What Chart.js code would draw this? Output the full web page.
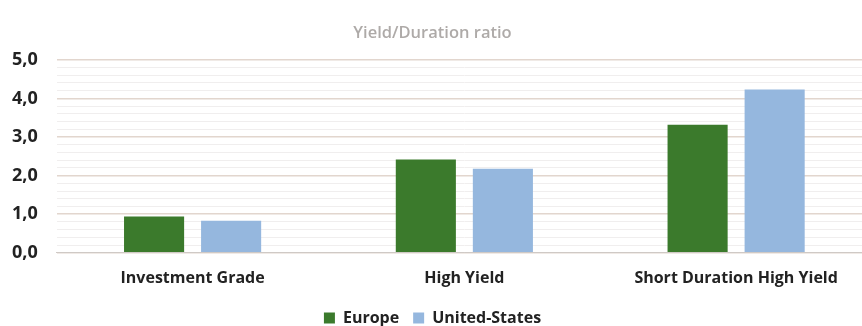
<!DOCTYPE html>
<html>
<head>
<meta charset="utf-8">
<script src="https://cdn.jsdelivr.net/npm/chart.js@4"></script>
<style>
  html, body { margin: 0; padding: 0; background: #fff; overflow: hidden; }
  #wrap { width: 862px; height: 326px; overflow: hidden; }
  canvas { display: block; }
</style>
</head>
<body>
<div id="wrap"><canvas id="chart" width="898" height="336"></canvas></div>
<script>
// Yield/Duration ratio by segment
const categories = ['Investment Grade', 'High Yield', 'Short Duration High Yield'];
const europe = [0.94, 2.42, 3.32];
const unitedStates = [0.83, 2.18, 4.23];

const fontFam = '"Open Sans", "Noto Sans", sans-serif';
const isMajor = v => Math.abs(v - Math.round(v)) < 1e-6;

new Chart(document.getElementById('chart'), {
    type: 'bar',
    data: {
        labels: categories,
        datasets: [
            { label: 'Europe', data: europe, backgroundColor: '#3b7a2c', categoryPercentage: 0.567, barPercentage: 0.78 },
            { label: 'United-States', data: unitedStates, backgroundColor: '#95b7de', categoryPercentage: 0.567, barPercentage: 0.78 }
        ]
    },
    options: {
        responsive: false,
        animation: false,
        layout: { padding: { left: -7, right: 26, top: 11, bottom: 0 } },
        plugins: {
            title: {
                display: true,
                text: 'Yield/Duration ratio',
                color: '#aeaaa8',
                font: { family: fontFam, size: 16.5, weight: '600' },
                padding: { top: 12, bottom: 17 }
            },
            legend: {
                position: 'bottom',
                labels: {
                    color: '#222',
                    boxWidth: 11, boxHeight: 11,
                    font: { family: fontFam, size: 16, weight: '700' },
                    padding: 14
                }
            },
            tooltip: { enabled: false }
        },
        scales: {
            x: {
                grid: { display: false },
                border: { color: '#cfc9c5' },
                ticks: { color: '#222', font: { family: fontFam, size: 16, weight: '700' }, padding: 8 }
            },
            y: {
                min: 0, max: 5,
                border: { display: false },
                ticks: {
                    stepSize: 0.2,
                    autoSkip: false,
                    color: '#222',
                    padding: 19,
                    font: { family: fontFam, size: 18, weight: '700' },
                    callback: v => isMajor(v) ? v.toFixed(1).replace('.', ',') : ''
                },
                grid: {
                    drawTicks: false,
                    color: ctx => isMajor(ctx.tick.value) ? '#e2d6ce' : '#f0eeee',
                    lineWidth: ctx => isMajor(ctx.tick.value) ? 1.5 : 1
                }
            }
        }
    }
});
</script>
</body>
</html>
